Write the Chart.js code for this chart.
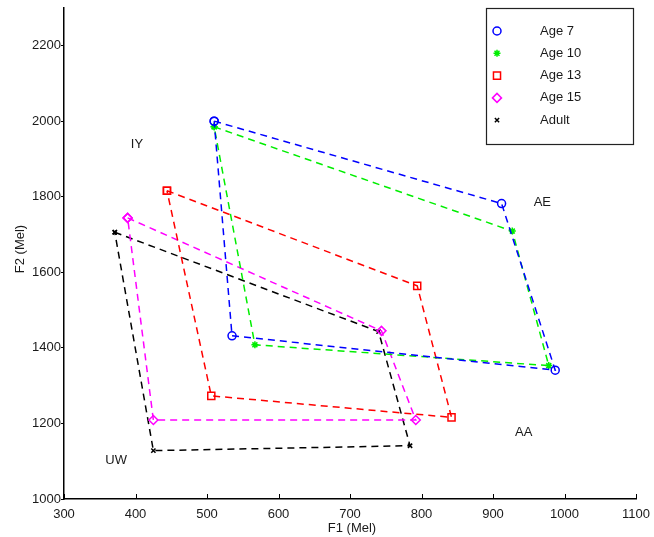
<!DOCTYPE html>
<html>
<head>
<meta charset="utf-8">
<script src="https://cdn.jsdelivr.net/npm/chart.js@4"></script>
<style>
  html, body { margin: 0; padding: 0; background: #fff; }
  canvas { display: block; }
</style>
</head>
<body>
<canvas id="vowelChart" width="654" height="537"></canvas>
<script>
// vowel order for every quadrilateral: IY -> AE -> AA -> UW
const vowels = ['IY', 'AE', 'AA', 'UW'];

const age7F1 = [510, 912, 987, 535];
const age7F2 = [2000, 1782, 1341, 1432];
const age10F1 = [510, 927, 978, 567];
const age10F2 = [1985, 1709, 1353, 1408];
const age13F1 = [444, 794, 842, 506];
const age13F2 = [1816, 1564, 1216, 1273];
const age15F1 = [389, 744, 792, 425];
const age15F2 = [1744, 1445, 1209, 1209];
const adultF1 = [371, 740, 784, 425];
const adultF2 = [1706, 1443, 1141, 1128];

// where the vowel names sit
const vowelLabelF1 = [402, 969, 943, 373];
const vowelLabelF2 = [1938, 1786, 1175, 1103];

const xTicks = [300, 400, 500, 600, 700, 800, 900, 1000, 1100];
const yTicks = [1000, 1200, 1400, 1600, 1800, 2000, 2200];

const FONT = "'Liberation Sans', Arial, sans-serif";
const TEXT = '#1a1a1a';
Chart.defaults.font.family = FONT;
Chart.defaults.font.size = 13;
Chart.defaults.color = TEXT;

// closed loop: repeat the first vowel at the end
function loop(f1, f2) {
    const pts = f1.map((x, i) => ({ x: x, y: f2[i] }));
    pts.push(pts[0]);
    return pts;
}

function series(label, f1, f2, color, style, radius) {
    return {
        label: label,
        data: loop(f1, f2),
        showLine: true,
        borderColor: color,
        borderWidth: 1.5,
        borderDash: [7, 5],
        pointStyle: style,
        pointRadius: radius,
        pointBorderColor: color,
        pointBackgroundColor: 'rgba(0,0,0,0)',
        pointBorderWidth: 1.5,
        fill: false
    };
}

const datasets = [
    series('Age 7', age7F1, age7F2, '#0000ff', 'circle', 4),
    series('Age 10', age10F1, age10F2, '#00ee00', 'star', 3.5),
    series('Age 13', age13F1, age13F2, '#ff0000', 'rect', 5),
    series('Age 15', age15F1, age15F2, '#ff00ff', 'rectRot', 4.5),
    series('Adult', adultF1, adultF2, '#000000', 'crossRot', 3)
];

// axis titles, vowel names, inward x ticks and the boxed legend
const extras = {
    id: 'extras',
    afterDraw(chart) {
        const ctx = chart.ctx;
        const xs = chart.scales.x, ys = chart.scales.y;
        const area = chart.chartArea;
        ctx.save();

        ctx.strokeStyle = '#000';
        ctx.lineWidth = 1;
        xTicks.forEach(v => {
            const px = Math.round(xs.getPixelForValue(v)) + 0.5;
            ctx.beginPath();
            ctx.moveTo(px, area.bottom);
            ctx.lineTo(px, area.bottom - 5);
            ctx.stroke();
        });

        ctx.fillStyle = TEXT;
        ctx.font = '13px ' + FONT;
        ctx.textAlign = 'center';
        ctx.textBaseline = 'middle';
        ctx.fillText('F1 (Mel)', (area.left + area.right) / 2 + 2, 528);
        ctx.save();
        ctx.translate(20, 249);
        ctx.rotate(-Math.PI / 2);
        ctx.fillText('F2 (Mel)', 0, 0);
        ctx.restore();

        vowels.forEach((v, i) => {
            ctx.fillText(v, xs.getPixelForValue(vowelLabelF1[i]), ys.getPixelForValue(vowelLabelF2[i]));
        });

        const box = { left: 486, top: 8, width: 147, height: 136 };
        ctx.fillStyle = '#fff';
        ctx.fillRect(box.left, box.top, box.width, box.height);
        ctx.strokeStyle = '#222';
        ctx.lineWidth = 1.2;
        ctx.strokeRect(box.left + 0.5, box.top + 0.5, box.width, box.height);
        ctx.textAlign = 'left';
        chart.data.datasets.forEach((ds, i) => {
            const y = box.top + 23 + i * 22.3;
            ctx.strokeStyle = ds.pointBorderColor;
            ctx.fillStyle = 'rgba(0,0,0,0)';
            ctx.lineWidth = 1.5;
            Chart.helpers.drawPoint(ctx, { pointStyle: ds.pointStyle, radius: ds.pointRadius, rotation: 0, borderWidth: 1.5 }, box.left + 11, y);
            ctx.fillStyle = TEXT;
            ctx.fillText(ds.label, box.left + 54, y);
        });
        ctx.restore();
    }
};

new Chart(document.getElementById('vowelChart'), {
    type: 'scatter',
    data: { datasets: datasets },
    options: {
        responsive: false,
        animation: false,
        layout: { padding: { top: 6, right: 18, left: 0, bottom: 0 } },
        plugins: { legend: { display: false }, tooltip: { enabled: false } },
        scales: {
            x: {
                type: 'linear',
                min: 300, max: 1100,
                afterFit: s => { s.height = 38; },
                afterBuildTicks: s => { s.ticks = xTicks.map(v => ({ value: v })); },
                grid: { display: false },
                border: { display: true, color: '#000', width: 1.5 },
                ticks: { padding: 0, color: TEXT, font: { size: 13 }, callback: v => String(v) }
            },
            y: {
                type: 'linear',
                min: 1000, max: 2300,
                afterFit: s => { s.width = 64; },
                afterBuildTicks: s => { s.ticks = yTicks.map(v => ({ value: v })); },
                grid: { drawOnChartArea: false, drawTicks: true, tickLength: 3, color: '#000' },
                border: { display: true, color: '#000', width: 1.5 },
                ticks: { padding: 0, color: TEXT, font: { size: 13 }, callback: v => String(v) }
            }
        }
    },
    plugins: [extras]
});
</script>
</body>
</html>
